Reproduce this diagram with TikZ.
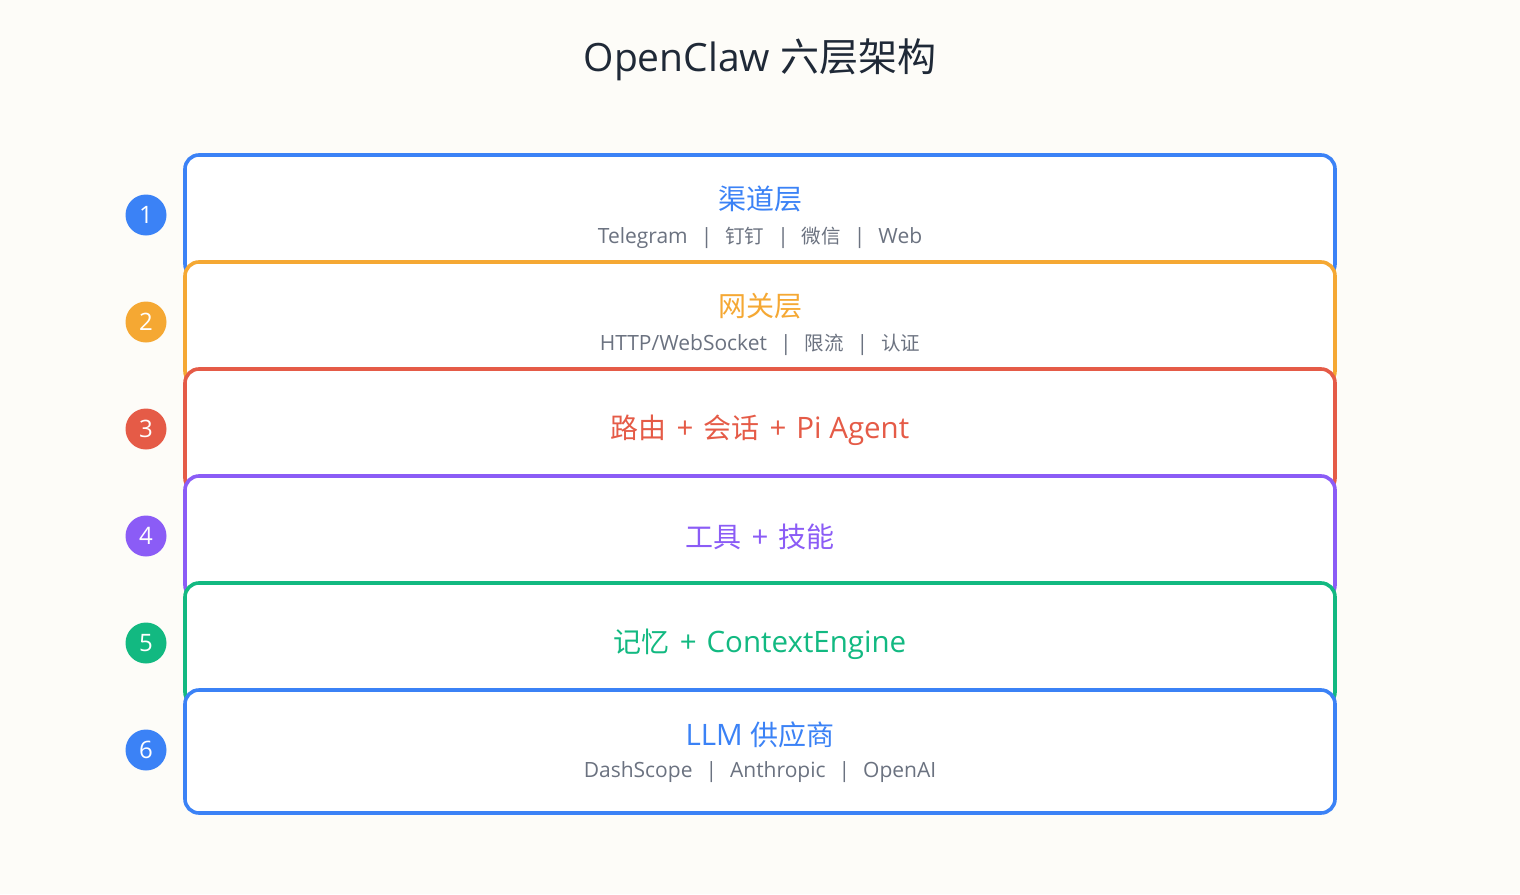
\documentclass[tikz,border=0pt]{standalone}
\usepackage{fontspec}
\setmainfont{Open Sans}
\newfontfamily\cjk{Noto Sans CJK SC}
\newcommand{\sepbar}{\hspace{13pt}|\hspace{13pt}}
\newcommand{\plussep}{\hspace{10pt}+\hspace{10pt}}
\begin{document}
\begin{tikzpicture}[x=1pt,y=-1pt,
  layerbox/.style={draw, line width=3.6pt, fill=white, rounded corners=14pt, minimum width=1150pt, minimum height=123pt, inner sep=0pt},
  numdot/.style={circle, minimum size=41pt, inner sep=0pt, text=white, font=\fontsize{24}{28}\selectfont},
  ltitle/.style={font=\fontsize{29.5}{32}\selectfont, inner sep=0pt, anchor=center},
  lsub/.style={font=\fontsize{21}{24}\selectfont, text=subgray, inner sep=0pt, anchor=center},
]
\definecolor{bgc}{HTML}{FDFCF8}
\definecolor{cblue}{HTML}{3B82F6}
\definecolor{corange}{HTML}{F5A833}
\definecolor{cred}{HTML}{E55B47}
\definecolor{cpurple}{HTML}{8B5CF6}
\definecolor{cgreen}{HTML}{12B981}
\definecolor{subgray}{HTML}{6B7280}
\definecolor{titlec}{HTML}{1F2937}
\fill[bgc] (0,0) rectangle (1520,894);
\useasboundingbox (0,0) rectangle (1520,894);

\node[font=\fontsize{39}{44}\selectfont, text=titlec, inner sep=0pt] (title) at (760,60) {OpenClaw {\cjk 六层架构}};

% layer 1
\node[layerbox, draw=cblue] (b1) at (760,216.5) {};
\node[numdot, fill=cblue] (n1) at (146,215) {1};
\node[ltitle, text=cblue] (t1) at (760,199) {\cjk\fontsize{28}{32}\selectfont 渠道层};
\node[lsub] (s1) at (760,238) {Telegram\sepbar{\cjk\fontsize{19.5}{24}\selectfont 钉钉}\sepbar{\cjk\fontsize{19.5}{24}\selectfont 微信}\sepbar Web};
% layer 2
\node[layerbox, draw=corange] (b2) at (760,323.5) {};
\node[numdot, fill=corange] (n2) at (146,322) {2};
\node[ltitle, text=corange] (t2) at (760,306) {\cjk\fontsize{28}{32}\selectfont 网关层};
\node[lsub] (s2) at (760,345) {HTTP/WebSocket\sepbar{\cjk\fontsize{19.5}{24}\selectfont 限流}\sepbar{\cjk\fontsize{19.5}{24}\selectfont 认证}};
% layer 3
\node[layerbox, draw=cred] (b3) at (760,430.5) {};
\node[numdot, fill=cred] (n3) at (146,429) {3};
\node[ltitle, text=cred] (t3) at (760,430) {{\cjk\fontsize{28}{32}\selectfont 路由}\plussep{\cjk\fontsize{28}{32}\selectfont 会话}\plussep Pi Agent};
% layer 4
\node[layerbox, draw=cpurple] (b4) at (760,537.5) {};
\node[numdot, fill=cpurple] (n4) at (146,536) {4};
\node[ltitle, text=cpurple] (t4) at (760,537) {{\cjk\fontsize{28}{32}\selectfont 工具}\plussep{\cjk\fontsize{28}{32}\selectfont 技能}};
% layer 5
\node[layerbox, draw=cgreen] (b5) at (760,644.5) {};
\node[numdot, fill=cgreen] (n5) at (146,643) {5};
\node[ltitle, text=cgreen] (t5) at (760,644) {{\cjk\fontsize{28}{32}\selectfont 记忆}\plussep ContextEngine};
% layer 6
\node[layerbox, draw=cblue] (b6) at (760,751.5) {};
\node[numdot, fill=cblue] (n6) at (146,750) {6};
\node[ltitle, text=cblue] (t6) at (760,735) {LLM {\cjk\fontsize{28}{32}\selectfont 供应商}};
\node[lsub] (s6) at (760,772) {DashScope\sepbar Anthropic\sepbar OpenAI};
\end{tikzpicture}
\end{document}
